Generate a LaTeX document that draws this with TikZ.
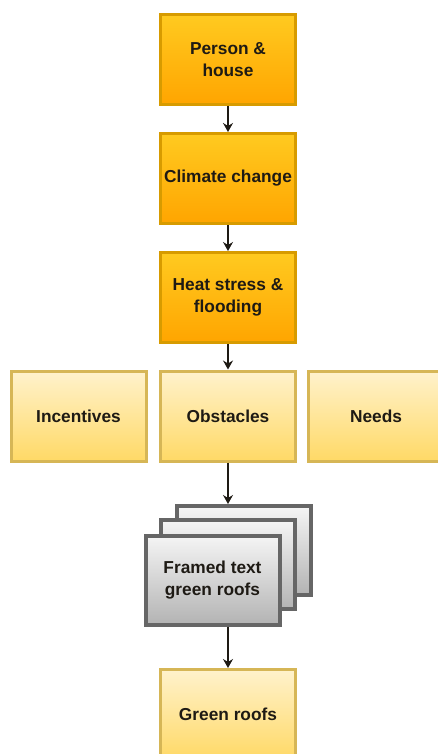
\documentclass[tikz,border=0pt]{standalone}
\usepackage{fontspec}
\setmainfont{Liberation Sans}
\usetikzlibrary{arrows.meta}

\definecolor{orangeTop}{HTML}{FFCA20}
\definecolor{orangeBot}{HTML}{FFA500}
\definecolor{orangeLine}{HTML}{D79B00}
\definecolor{yellowTop}{HTML}{FFF2CC}
\definecolor{yellowBot}{HTML}{FFD966}
\definecolor{yellowLine}{HTML}{D6B656}
\definecolor{grayTop}{HTML}{F5F5F5}
\definecolor{grayBot}{HTML}{B3B3B3}
\definecolor{grayLine}{HTML}{666666}
\definecolor{ink}{HTML}{1E1A14}

\begin{document}
\begin{tikzpicture}[x=1pt,y=-1pt,
  basebox/.style={rectangle, line width=3pt, minimum width=135pt, minimum height=90pt,
    inner sep=1pt, align=center, text=ink,
    font=\bfseries\fontsize{17.3}{22}\selectfont},
  orangebox/.style={basebox, draw=orangeLine, top color=orangeTop, bottom color=orangeBot},
  yellowbox/.style={basebox, draw=yellowLine, top color=yellowTop, bottom color=yellowBot},
  graybox/.style={basebox, line width=4pt, minimum width=134pt, minimum height=89pt,
    draw=grayLine, top color=grayTop, bottom color=grayBot},
  flow/.style={line width=1.6pt, draw=ink, -{Stealth[length=9pt,width=10pt,inset=3pt]}}
]
\clip (0,0) rectangle (438,754);

% main chain
\node[orangebox] (person)  at (228,59.5)  {Person \&\\house};
\node[orangebox] (climate) at (228,178.5) {Climate change};
\node[orangebox] (heat)    at (228,297.5) {Heat stress \&\\flooding};

% row of three
\node[yellowbox] (incent) at (78.5,416)  {Incentives};
\node[yellowbox] (obst)   at (228,416)   {Obstacles};
\node[yellowbox] (needs)  at (376,416)   {Needs};

% stacked frames
\node[graybox] (back)   at (243.5,550.5) {};
\node[graybox] (middle) at (228,564.5)   {};
\node[graybox] (front)  at (212.5,580)   {Framed text\\green roofs};

\node[yellowbox] (green) at (228,714.5) {Green roofs};

% connectors
\draw[flow] (person) -- (climate);
\draw[flow] (climate) -- (heat);
\draw[flow] (heat) -- (obst);
\draw[flow] (obst.south) -- (obst.south |- back.north);
\draw[flow] (green.north |- front.south) -- (green.north);
\end{tikzpicture}
\end{document}
